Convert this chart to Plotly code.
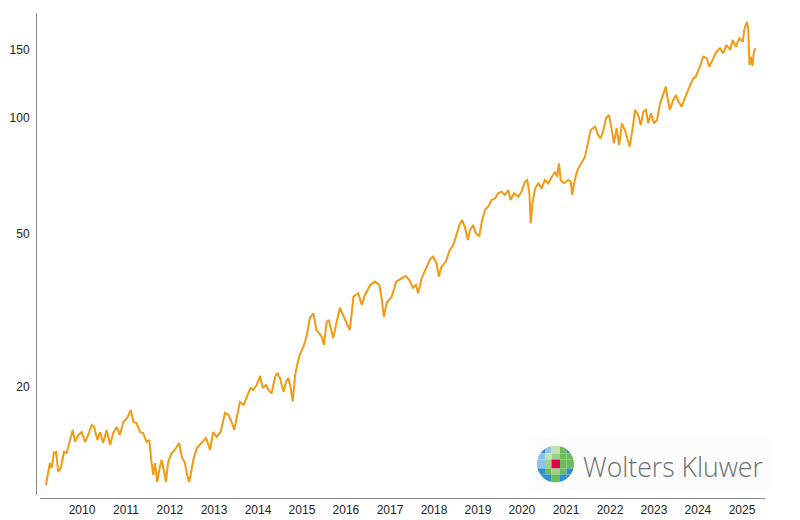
import plotly.graph_objects as go
import pandas as pd

# ---------------- data ----------------
years = [
    2009.18, 2009.23, 2009.27, 2009.31, 2009.36, 2009.41, 2009.46, 2009.52, 2009.59, 2009.65, 2009.71, 2009.79, 2009.84, 2009.92, 2009.99,
    2010.07, 2010.14, 2010.22, 2010.28, 2010.35, 2010.41, 2010.48, 2010.56, 2010.64, 2010.71, 2010.79, 2010.86, 2010.94,
    2011.03, 2011.11, 2011.17, 2011.24, 2011.32, 2011.39, 2011.47, 2011.53, 2011.58, 2011.62, 2011.66, 2011.71, 2011.77, 2011.81, 2011.86, 2011.91, 2011.96,
    2012.04, 2012.11, 2012.21, 2012.27, 2012.34, 2012.39, 2012.44, 2012.53, 2012.61, 2012.72, 2012.82, 2012.91, 2012.98,
    2013.06, 2013.15, 2013.25, 2013.33, 2013.40, 2013.46, 2013.52, 2013.59, 2013.67, 2013.74, 2013.83, 2013.89, 2013.97,
    2014.05, 2014.11, 2014.18, 2014.26, 2014.31, 2014.39, 2014.44, 2014.50, 2014.58, 2014.64, 2014.69, 2014.74, 2014.79, 2014.84, 2014.89, 2014.95,
    2015.02, 2015.07, 2015.12, 2015.18, 2015.26, 2015.33, 2015.39, 2015.45, 2015.50, 2015.56, 2015.61, 2015.71, 2015.86, 2015.98,
    2016.09, 2016.17, 2016.28, 2016.36, 2016.43, 2016.55, 2016.66, 2016.76, 2016.81, 2016.86, 2016.92,
    2017.04, 2017.14, 2017.27, 2017.36, 2017.44, 2017.52, 2017.59, 2017.64, 2017.72, 2017.82, 2017.91, 2017.98,
    2018.06, 2018.11, 2018.17, 2018.27, 2018.36, 2018.44, 2018.52, 2018.58, 2018.64, 2018.70, 2018.77, 2018.82, 2018.89, 2018.95,
    2019.03, 2019.08, 2019.16, 2019.23, 2019.31, 2019.39, 2019.46, 2019.54, 2019.61, 2019.69, 2019.74, 2019.82, 2019.92, 2019.99,
    2020.07, 2020.12, 2020.17, 2020.20, 2020.24, 2020.30, 2020.37, 2020.45, 2020.52, 2020.60, 2020.68, 2020.75, 2020.80, 2020.84, 2020.88, 2020.95,
    2021.05, 2021.11, 2021.14, 2021.19, 2021.26, 2021.36, 2021.43, 2021.48, 2021.56, 2021.66, 2021.73, 2021.79, 2021.85, 2021.91, 2021.98,
    2022.04, 2022.09, 2022.15, 2022.21, 2022.27, 2022.34, 2022.39, 2022.45, 2022.52, 2022.57, 2022.64, 2022.70, 2022.76, 2022.82, 2022.87, 2022.93,
    2023.00, 2023.07, 2023.14, 2023.21, 2023.27, 2023.31, 2023.36, 2023.44, 2023.50, 2023.56, 2023.63, 2023.70, 2023.75, 2023.82, 2023.89, 2023.95,
    2024.00, 2024.06, 2024.12, 2024.20, 2024.26, 2024.34, 2024.42, 2024.50, 2024.57, 2024.65, 2024.73, 2024.79, 2024.86, 2024.94,
    2025.02, 2025.05, 2025.11, 2025.14, 2025.17, 2025.20, 2025.24, 2025.27, 2025.31,
]

values = [
    11.13, 11.94, 12.69, 12.32, 13.48, 13.56, 12.03, 12.32, 13.56, 13.48, 14.31, 15.46, 14.40, 15.01, 15.28,
    14.40, 15.01, 15.93, 15.74, 14.57, 15.28, 14.31, 15.46, 14.14, 15.19, 15.74, 15.01, 16.22,
    16.62, 17.43, 16.22, 16.12, 15.28, 15.19, 14.40, 14.57, 12.77, 11.82, 12.69, 11.33, 12.39, 12.92, 12.17, 11.33, 12.77,
    13.48, 13.72, 14.31, 13.16, 12.69, 11.82, 11.33, 12.92, 13.88, 14.31, 14.74, 13.72, 15.28,
    14.83, 15.28, 17.13, 16.92, 16.22, 15.46, 16.72, 18.28, 17.96, 18.73, 19.88, 19.64, 20.24,
    21.36, 19.88, 20.24, 19.45, 19.30, 21.27, 21.75, 21.10, 19.45, 20.65, 21.10, 20.04, 18.32, 21.27, 22.81, 24.22,
    25.25, 26.21, 27.60, 30.22, 31.07, 28.12, 27.58, 27.03, 25.71, 29.47, 29.86, 26.81, 32.08, 29.86,
    28.12, 34.34, 35.03, 32.66, 34.67, 36.81, 37.56, 36.81, 34.00, 30.45, 32.99,
    34.34, 37.56, 38.33, 38.86, 37.93, 36.18, 36.81, 35.03, 38.33, 40.68, 42.93, 43.60,
    41.91, 38.70, 41.07, 42.34, 45.38, 46.76, 50.19, 52.70, 54.30, 52.18, 48.18, 51.15, 52.70, 50.19,
    49.24, 53.24, 57.65, 58.80, 61.20, 61.83, 63.70, 64.32, 63.06, 64.97, 61.20, 63.70, 62.42, 64.32,
    68.27, 68.97, 63.70, 53.24, 60.00, 65.61, 67.63, 65.61, 68.97, 67.63, 70.36, 72.49, 70.36, 76.21, 68.97, 67.63,
    68.97, 68.27, 63.06, 68.27, 73.22, 76.95, 79.29, 84.18, 93.02, 94.87, 90.28, 88.53, 93.02, 99.90, 101.75,
    93.02, 85.88, 93.98, 85.03, 96.81, 93.02, 88.53, 84.20, 94.87, 104.84, 101.75, 95.84, 103.77, 104.84, 96.81, 102.80,
    96.81, 98.75, 109.10, 114.68, 120.54, 112.44, 104.84, 111.30, 114.68, 110.19, 106.93, 112.44, 115.86, 120.54, 126.69, 127.92,
    131.60, 137.21, 144.24, 142.84, 135.89, 142.84, 148.60, 151.66, 147.15, 154.65, 150.09, 159.34, 153.12, 160.97,
    157.76, 169.16, 177.77, 171.00, 137.21, 144.24, 136.40, 148.60, 151.66,
]

x_tick_labels = ["2010", "2011", "2012", "2013", "2014", "2015", "2016", "2017",
                 "2018", "2019", "2020", "2021", "2022", "2023", "2024", "2025"]
y_tick_values = [20, 50, 100, 150]
y_tick_labels = ["20", "50", "100", "150"]


def to_date(y):
    yr = int(y)
    start = pd.Timestamp(yr, 1, 1)
    length = (pd.Timestamp(yr + 1, 1, 1) - start).days
    return start + pd.Timedelta(days=(y - yr) * length)


dates = [to_date(y) for y in years]
tick_dates = [pd.Timestamp(int(t), 1, 1) for t in x_tick_labels]

LINE_COLOR = "#F29A12"
AXIS_COLOR = "#8a8a8a"
FONT = "Liberation Sans, Arial, sans-serif"

# the page has an 8px body margin: figure origin sits at (8, 8) in the window
OX, OY = 8, 8
W, H = 792, 512
ML, MR, MT, MB = 28, 35, 5, 22
PW, PH = W - ML - MR, H - MT - MB


def px(x):
    """window pixel x -> paper coordinate"""
    return (x - OX - ML) / PW


def py(y):
    """window pixel y -> paper coordinate"""
    return (OY + H - MB - y) / PH


fig = go.Figure()
fig.add_trace(go.Scatter(
    x=dates, y=values, mode="lines",
    line=dict(color=LINE_COLOR, width=2),
    hoverinfo="x+y", showlegend=False,
))

# ---------------- logo (decoration) ----------------
shapes = []
shapes.append(dict(type="rect", xref="paper", yref="paper",
                   x0=px(530), x1=px(770), y0=py(490), y1=py(438),
                   fillcolor="#fcfcfc", line=dict(width=0), layer="below"))

cx, cy, r = 555.5, 464.0, 18.5
xb = [537, 545, 551.5, 560, 566.5, 574]
yb = [445.5, 453.5, 459.5, 468.5, 474.5, 482.5]
BL, LB, PG, LG, GR, RD = "#2b8fd0", "#8ec3e8", "#c4e1b4", "#9fd08a", "#6cbb5a", "#e2004f"
cells = [
    [BL, LB, PG, GR, BL],
    [LB, PG, LG, GR, GR],
    [LB, LG, RD, GR, GR],
    [BL, GR, LG, GR, BL],
    [BL, BL, GR, BL, BL],
]
for i in range(5):
    for j in range(5):
        shapes.append(dict(type="rect", xref="paper", yref="paper",
                           x0=px(xb[j]), x1=px(xb[j + 1]),
                           y0=py(yb[i + 1]), y1=py(yb[i]),
                           fillcolor=cells[i][j], line=dict(width=0)))

# mask outside the circle (square frame minus circle, even-odd fill)
k = 0.5523 * r
R = r + 4


def P(x, y):
    return f"{px(x):.6f},{py(y):.6f}"


path = (f"M{P(cx - R, cy - R)} L{P(cx + R, cy - R)} L{P(cx + R, cy + R)} L{P(cx - R, cy + R)} Z "
        f"M{P(cx + r, cy)} C{P(cx + r, cy + k)} {P(cx + k, cy + r)} {P(cx, cy + r)} "
        f"C{P(cx - k, cy + r)} {P(cx - r, cy + k)} {P(cx - r, cy)} "
        f"C{P(cx - r, cy - k)} {P(cx - k, cy - r)} {P(cx, cy - r)} "
        f"C{P(cx + k, cy - r)} {P(cx + r, cy - k)} {P(cx + r, cy)} Z")
shapes.append(dict(type="path", xref="paper", yref="paper", path=path,
                   fillcolor="#fcfcfc", fillrule="evenodd", line=dict(width=0)))

annotations = [dict(
    xref="paper", yref="paper", x=px(581), y=py(467), xanchor="left", yanchor="middle",
    text="Wolters Kluwer", showarrow=False,
    font=dict(family="Open Sans, Liberation Sans, sans-serif", size=26.6, color="#6e6f72", weight=300),
)]

fig.update_layout(
    width=W, height=H,
    margin=dict(l=ML, r=MR, t=MT, b=MB, pad=0, autoexpand=False),
    paper_bgcolor="white", plot_bgcolor="white",
    font=dict(family=FONT, size=12, color="#222222"),
    shapes=shapes, annotations=annotations,
    xaxis=dict(
        type="date", domain=[4 / PW, 1], anchor="free", position=0,
        range=[to_date(2009.045), to_date(2025.523)],
        tickvals=tick_dates, ticktext=x_tick_labels,
        showgrid=False, zeroline=False, automargin=False,
        showline=True, linecolor=AXIS_COLOR, linewidth=1,
        ticks="outside", ticklen=1, tickcolor="rgba(0,0,0,0)",
        tickfont=dict(size=12, color="#222222"),
    ),
    yaxis=dict(
        type="log", domain=[3 / PH, 1], anchor="free", position=0,
        range=[1.0204, 2.2725],
        tickvals=y_tick_values, ticktext=y_tick_labels,
        showgrid=False, zeroline=False, automargin=False,
        showline=True, linecolor=AXIS_COLOR, linewidth=1,
        ticks="outside", ticklen=4, tickcolor="rgba(0,0,0,0)",
        tickfont=dict(size=12, color="#222222"),
    ),
)

fig.write_html("out.html")
